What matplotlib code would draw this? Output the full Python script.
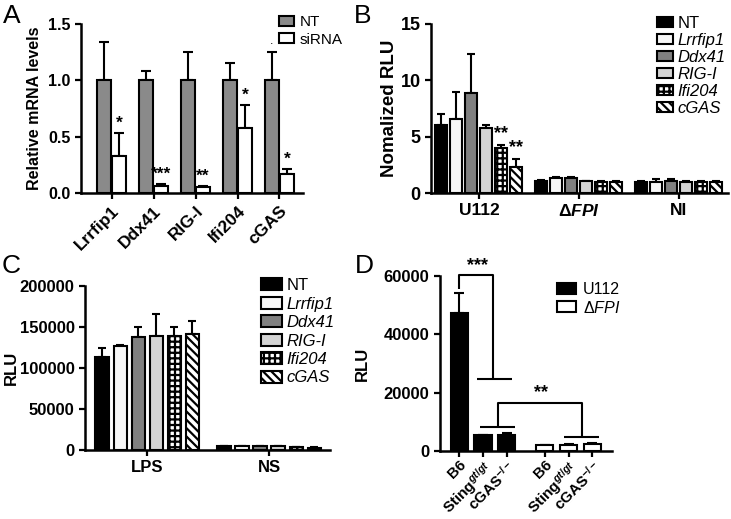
import numpy as np
import matplotlib
matplotlib.use('Agg')
import matplotlib.pyplot as plt

W, H = 731, 519
plt.rcParams.update({
    'font.family': ['Liberation Sans', 'DejaVu Sans'],
    'mathtext.fontset': 'custom',
    'mathtext.rm': 'Liberation Sans:bold',
    'mathtext.it': 'Liberation Sans:italic:bold',
    'mathtext.bf': 'Liberation Sans:bold',
    'mathtext.sf': 'Liberation Sans:italic',
    'hatch.linewidth': 1.6,
    'axes.linewidth': 1.6,
})

# ---------------- data ----------------
# Panel A
a_genes = ['Lrrfip1', 'Ddx41', 'RIG-I', 'Ifi204', 'cGAS']
a_nt = [1.0, 1.0, 1.0, 1.0, 1.0]
a_nt_err = [0.34, 0.08, 0.25, 0.15, 0.25]
a_si = [0.33, 0.06, 0.05, 0.58, 0.17]
a_si_err = [0.20, 0.02, 0.01, 0.20, 0.04]
a_sig = ['*', '***', '**', '*', '*']
a_yticks = [0.0, 0.5, 1.0, 1.5]

# Panel B
b_groups = ['U112', 'Δ$\\mathit{FPI}$', 'NI']
b_series = ['NT', 'Lrrfip1', 'Ddx41', 'RIG-I', 'Ifi204', 'cGAS']
b_vals = [[6.05, 1.10, 1.00],
          [6.55, 1.30, 1.00],
          [8.85, 1.30, 1.05],
          [5.75, 1.05, 1.00],
          [3.97, 1.00, 1.00],
          [2.30, 1.00, 1.00]]
b_errs = [[0.95, 0.05, 0.05],
          [2.45, 0.12, 0.28],
          [3.45, 0.12, 0.20],
          [0.25, 0.05, 0.05],
          [0.30, 0.05, 0.05],
          [0.70, 0.05, 0.05]]
b_sig = ['', '', '', '', '**', '**']
b_yticks = [0, 5, 10, 15]

# Panel C
c_groups = ['LPS', 'NS']
c_vals = [[114000, 5000],
          [126500, 4500],
          [138000, 4500],
          [139000, 5000],
          [139000, 3800],
          [141000, 3000]]
c_errs = [[10000, 300],
          [1500, 300],
          [12500, 300],
          [27000, 300],
          [11500, 300],
          [16500, 300]]
c_yticks = [0, 50000, 100000, 150000, 200000]

# Panel D
d_labels = ['B6', 'Sting$^{\\mathit{gt/gt}}$', 'cGAS$^{\\mathit{-/-}}$']
d_u112 = [47400, 5400, 5600]
d_u112_err = [6800, 200, 500]
d_dfpi = [2000, 2200, 2500]
d_dfpi_err = [150, 200, 300]
d_yticks = [0, 20000, 40000, 60000]

# ---------------- styles ----------------
series_face = ['black', '#f7f7f7', '#808080', '#d4d4d4', 'white', 'white']
series_hatch = [None, None, None, None, '+++', '\\\\\\\\']

fig = plt.figure(figsize=(W / 100, H / 100), dpi=100)


def px_axes(l, t, r, b):
    return fig.add_axes([l / W, 1 - b / H, (r - l) / W, (b - t) / H])


def style_axes(ax, size):
    for s in ['top', 'right']:
        ax.spines[s].set_visible(False)
    for s in ['left', 'bottom']:
        ax.spines[s].set_linewidth(1.8)
    ax.tick_params(axis='both', direction='out', width=1.6, length=4)
    ax.tick_params(axis='y', labelsize=size)
    for lab in ax.get_yticklabels():
        lab.set_fontweight('bold')


BAR_LW = 1.5

# ---------------- Panel A ----------------
axA = px_axes(81, 24, 303, 193)
style_axes(axA, 11.5)
xa = np.arange(len(a_genes))
wa = 0.32
off = 0.18
axA.errorbar(xa - off, a_nt, yerr=[np.zeros(5), a_nt_err], fmt='none',
             ecolor='black', elinewidth=1.5, capsize=3.5, capthick=1.5, zorder=1)
axA.errorbar(xa + off, a_si, yerr=[np.zeros(5), a_si_err], fmt='none',
             ecolor='black', elinewidth=1.5, capsize=3.5, capthick=1.5, zorder=1)
axA.bar(xa - off, a_nt, wa, color='#8a8a8a', edgecolor='black', linewidth=BAR_LW,
        label='NT', zorder=2)
axA.bar(xa + off, a_si, wa, color='white', edgecolor='black', linewidth=BAR_LW,
        label='siRNA', zorder=2)
for i, s in enumerate(a_sig):
    axA.text(xa[i] + off, a_si[i] + a_si_err[i] + 0.02, s, ha='center',
             va='bottom', fontsize=12.5, fontweight='bold')
axA.set_xlim(-0.73, 4.56)
axA.set_ylim(0, 1.5)
axA.set_yticks(a_yticks)
axA.set_yticklabels([f'{v:.1f}' for v in a_yticks], fontweight='bold')
axA.set_xticks(xa)
axA.set_xticklabels(a_genes, rotation=45, ha='right', rotation_mode='anchor',
                    fontsize=12.5, fontweight='bold')
axA.set_ylabel('Relative mRNA levels', fontsize=11.5, fontweight='bold')
axA.yaxis.set_label_coords(-0.175, 0.5)
legA = axA.legend(loc='upper left', bbox_to_anchor=(279 / W, 1 - 15 / H),
                  bbox_transform=fig.transFigure, frameon=False, fontsize=11,
                  handlelength=0.98, handleheight=0.65, handletextpad=0.35,
                  labelspacing=0.24, borderpad=0, borderaxespad=0)
fig.text(270 / W, 1 - 44 / H, '.', fontsize=9)

# ---------------- Panel B ----------------
axB = px_axes(431, 24, 728, 193)
style_axes(axB, 13)
xb = np.arange(len(b_groups))
pitch_b = 0.15
wb = 0.12
for k in range(6):
    xs = xb + (k - 2.5) * pitch_b
    axB.errorbar(xs, b_vals[k], yerr=[np.zeros(3), b_errs[k]], fmt='none',
                 ecolor='black', elinewidth=1.5, capsize=3, capthick=1.5, zorder=1)
    axB.bar(xs, b_vals[k], wb, color=series_face[k], edgecolor='black',
            linewidth=BAR_LW, hatch=series_hatch[k], label=b_series[k], zorder=2)
    if b_sig[k]:
        axB.text(xs[0], b_vals[k][0] + b_errs[k][0] + 0.25, b_sig[k],
                 ha='center', va='bottom', fontsize=13, fontweight='bold')
axB.set_xlim(-0.48, 2.49)
axB.set_ylim(0, 15)
axB.set_yticks(b_yticks)
axB.set_yticklabels([str(v) for v in b_yticks], fontweight='bold')
axB.set_xticks(xb)
axB.set_xticklabels(b_groups, fontsize=12.5, fontweight='bold')
axB.set_ylabel('Nomalized RLU', fontsize=13.5, fontweight='bold')
axB.yaxis.set_label_coords(-0.11, 0.5)
legB = axB.legend(loc='upper left', bbox_to_anchor=(657 / W, 1 - 16 / H),
                  bbox_transform=fig.transFigure, frameon=False, fontsize=12,
                  handlelength=0.95, handleheight=0.6, handletextpad=0.3,
                  labelspacing=0.12, borderpad=0, borderaxespad=0)
for t in legB.get_texts()[1:]:
    t.set_style('italic')

# ---------------- Panel C ----------------
axC = px_axes(85, 286, 330, 450)
style_axes(axC, 12)
xc = np.arange(len(c_groups))
pitch_c = 0.148
wc = 0.108
for k in range(6):
    xs = xc + (k - 2.5) * pitch_c
    axC.errorbar(xs, c_vals[k], yerr=[np.zeros(2), c_errs[k]], fmt='none',
                 ecolor='black', elinewidth=1.5, capsize=3, capthick=1.5, zorder=1)
    axC.bar(xs, c_vals[k], wc, color=series_face[k], edgecolor='black',
            linewidth=BAR_LW, hatch=series_hatch[k], label=b_series[k], zorder=2)
axC.set_xlim(-0.51, 1.5)
axC.set_ylim(0, 200000)
axC.set_yticks(c_yticks)
axC.set_yticklabels([str(v) for v in c_yticks], fontweight='bold')
axC.set_xticks(xc)
axC.set_xticklabels(c_groups, fontsize=12, fontweight='bold')
axC.set_ylabel('RLU', fontsize=12, fontweight='bold')
axC.yaxis.set_label_coords(-0.27, 0.5)
legC = axC.legend(loc='upper left', bbox_to_anchor=(261 / W, 1 - 278 / H),
                  bbox_transform=fig.transFigure, frameon=False, fontsize=12,
                  handlelength=1.26, handleheight=0.72, handletextpad=0.25,
                  labelspacing=0.21, borderpad=0, borderaxespad=0)
for t in legC.get_texts()[1:]:
    t.set_style('italic')

# ---------------- Panel D ----------------
axD = px_axes(440, 276, 612, 451)
style_axes(axD, 12)
xd1 = np.arange(3)
xd2 = xd1 + 3.6
wd = 0.72
axD.errorbar(xd1, d_u112, yerr=[np.zeros(3), d_u112_err], fmt='none',
             ecolor='black', elinewidth=1.5, capsize=3.5, capthick=1.5, zorder=1)
axD.errorbar(xd2, d_dfpi, yerr=[np.zeros(3), d_dfpi_err], fmt='none',
             ecolor='black', elinewidth=1.5, capsize=3.5, capthick=1.5, zorder=1)
axD.bar(xd1, d_u112, wd, color='black', edgecolor='black', linewidth=BAR_LW,
        label='U112', zorder=2)
axD.bar(xd2, d_dfpi, wd, color='white', edgecolor='black', linewidth=BAR_LW,
        label='Δ$\\mathsf{FPI}$', zorder=2)
axD.set_xlim(-0.81, 6.42)
axD.set_ylim(0, 60000)
axD.set_yticks(d_yticks)
axD.set_yticklabels([str(v) for v in d_yticks], fontweight='bold')
axD.set_xticks(np.concatenate([xd1, xd2]))
axD.set_xticklabels(d_labels + d_labels, rotation=45, ha='right',
                    rotation_mode='anchor', fontsize=11, fontweight='bold')
axD.tick_params(axis='x', pad=1)
axD.set_ylabel('RLU', fontsize=12, fontweight='bold')
axD.yaxis.set_label_coords(-0.41, 0.5)
legD = axD.legend(loc='upper left', bbox_to_anchor=(557 / W, 1 - 282 / H),
                  bbox_transform=fig.transFigure, frameon=False, fontsize=11.5,
                  handlelength=1.19, handleheight=0.69, handletextpad=0.45,
                  labelspacing=0.16, borderpad=0, borderaxespad=0)
# significance brackets
bk = dict(color='black', lw=1.5, clip_on=False, solid_capstyle='butt')
top1 = 60200
axD.plot([0, 0, 1.43, 1.43], [d_u112[0] + d_u112_err[0] + 1500, top1, top1, 24600], **bk)
axD.plot([0.73, 2.2], [24600, 24600], **bk)
axD.text(0.78, top1 + 500, '***', ha='center', va='bottom', fontsize=13,
         fontweight='bold', clip_on=False)
axD.plot([1.61, 1.61, 5.14, 5.14], [8300, 16300, 16300, 4900], **bk)
axD.plot([0.87, 2.34], [8300, 8300], **bk)
axD.plot([4.41, 5.88], [4900, 4900], **bk)
axD.text(3.43, 17000, '**', ha='center', va='bottom', fontsize=13,
         fontweight='bold')

# panel letters
for lab, x, y in [('A', 3, 23), ('B', 354, 23), ('C', 2, 273), ('D', 355, 273)]:
    fig.text(x / W, 1 - y / H, lab, fontsize=19, va='baseline', ha='left')

fig.savefig('out.png', dpi=100)
